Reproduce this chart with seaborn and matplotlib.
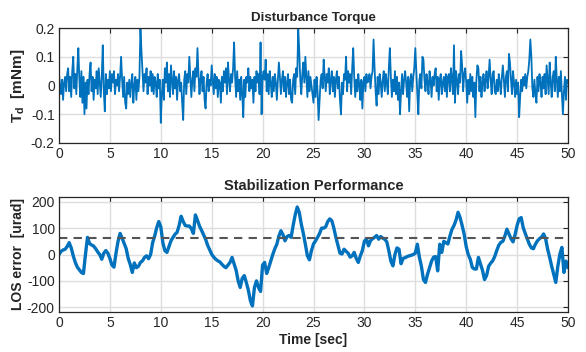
import numpy as np
import matplotlib
matplotlib.use("Agg")
import matplotlib.pyplot as plt
import seaborn as sns

# ---------------- data ----------------
# Disturbance torque [mNm], sampled every 0.1 s from 0 to 50 s (one row per second)
td_values = [
    0.04, 0.00, -0.03, 0.02, -0.05, 0.01, 0.03, -0.02, 0.04, 0.06,
    -0.02, 0.03, -0.04, 0.05, 0.10, -0.01, 0.04, -0.03, 0.06, 0.13,
    0.02, -0.04, 0.05, -0.06, 0.03, -0.10, 0.01, -0.08, 0.02, -0.03,
    0.04, 0.08, -0.02, 0.03, -0.05, 0.02, -0.01, 0.05, -0.03, 0.06,
    0.01, -0.04, 0.03, 0.14, -0.02, -0.09, 0.04, -0.03, 0.02, -0.01,
    0.05, -0.02, 0.04, 0.01, 0.05, -0.03, 0.02, 0.00, 0.04, -0.02,
    0.03, 0.10, 0.02, -0.04, 0.03, -0.06, -0.08, 0.01, -0.03, 0.02,
    -0.04, 0.01, 0.04, -0.06, 0.00, 0.03, -0.05, 0.02, -0.02, 0.03,
    0.20, 0.12, 0.05, -0.02, 0.04, 0.01, 0.06, -0.03, 0.03, 0.00,
    0.05, -0.02, 0.04, -0.03, 0.03, 0.01, -0.04, 0.04, -0.01, 0.02,
    -0.13, -0.03, 0.02, -0.05, 0.06, 0.01, 0.08, -0.02, 0.04, -0.04,
    0.07, 0.02, -0.03, 0.05, -0.01, 0.03, -0.05, 0.02, 0.04, -0.02,
    0.01, -0.06, -0.12, 0.02, 0.05, -0.03, 0.04, 0.01, 0.10, 0.03,
    -0.04, 0.02, 0.05, -0.02, 0.06, 0.03, 0.13, 0.04, -0.03, 0.02,
    0.05, -0.02, 0.03, -0.05, -0.08, 0.01, 0.04, -0.02, 0.02, 0.00,
    0.07, 0.02, -0.03, 0.04, -0.01, 0.03, -0.04, 0.02, 0.01, -0.06,
    0.03, -0.02, 0.05, 0.01, 0.06, -0.03, 0.08, 0.02, -0.02, 0.04,
    0.01, 0.06, 0.15, 0.03, -0.04, 0.05, -0.02, 0.02, -0.05, 0.03,
    -0.03, -0.11, 0.02, -0.04, 0.03, 0.01, 0.06, -0.02, 0.03, -0.01,
    0.02, -0.06, 0.03, -0.02, 0.05, 0.01, 0.04, -0.03, 0.15, -0.10,
    0.03, 0.05, 0.02, 0.09, -0.02, 0.04, -0.03, 0.05, 0.01, -0.04,
    0.03, -0.02, 0.04, 0.01, -0.05, 0.02, 0.08, 0.03, -0.03, 0.02,
    0.05, -0.02, 0.03, -0.04, 0.01, 0.04, -0.03, 0.02, -0.05, -0.06,
    0.02, 0.04, -0.03, 0.06, 0.03, 0.20, 0.12, 0.02, -0.03, 0.04,
    0.08, 0.01, 0.10, 0.03, -0.04, 0.05, -0.02, 0.03, 0.00, -0.03,
    -0.06, 0.02, -0.04, 0.03, -0.02, -0.12, -0.05, 0.02, 0.04, -0.01,
    0.09, 0.03, -0.02, 0.04, 0.01, 0.06, -0.03, 0.02, 0.05, -0.02,
    0.03, -0.04, 0.02, 0.05, -0.01, 0.03, -0.05, -0.10, 0.01, -0.03,
    0.04, 0.02, 0.10, -0.02, 0.05, 0.01, 0.04, -0.03, 0.06, 0.13,
    0.03, -0.04, 0.02, -0.02, 0.04, 0.00, -0.05, 0.02, -0.08, 0.01,
    0.03, -0.02, 0.04, 0.01, 0.02, 0.04, -0.01, 0.03, 0.05, 0.16,
    0.06, -0.02, -0.07, 0.03, -0.03, 0.04, 0.01, -0.04, 0.02, 0.05,
    -0.02, 0.04, 0.01, -0.03, 0.06, 0.13, 0.03, -0.04, 0.02, -0.02,
    0.05, -0.03, 0.03, -0.05, 0.01, -0.10, -0.02, 0.04, -0.03, 0.02,
    0.05, 0.01, -0.04, 0.03, -0.09, 0.02, 0.04, -0.02, 0.03, 0.06,
    0.13, 0.05, -0.03, -0.10, 0.02, 0.04, -0.01, 0.10, 0.09, 0.02,
    -0.02, 0.04, 0.01, -0.03, 0.05, 0.02, -0.04, 0.03, 0.00, 0.04,
    0.06, -0.02, 0.03, -0.05, 0.02, 0.04, -0.03, 0.01, 0.03, -0.02,
    0.04, -0.04, 0.03, 0.04, -0.02, 0.06, 0.02, -0.03, 0.14, -0.06,
    0.05, 0.02, -0.03, 0.04, 0.01, 0.12, 0.07, -0.02, 0.04, 0.06,
    0.01, -0.06, 0.02, -0.03, 0.04, -0.02, 0.03, -0.04, 0.01, -0.11,
    0.02, 0.07, 0.06, -0.02, 0.03, -0.04, 0.01, 0.04, -0.02, 0.02,
    0.05, -0.01, 0.03, 0.09, 0.02, -0.03, 0.04, 0.05, -0.02, -0.03,
    0.02, -0.02, 0.04, 0.01, -0.03, 0.03, 0.07, 0.02, -0.04, 0.03,
    0.05, -0.02, 0.11, 0.08, 0.02, -0.03, 0.05, 0.01, -0.04, 0.02,
    -0.03, 0.01, -0.11, -0.04, 0.02, -0.02, 0.03, 0.00, 0.04, -0.01,
    0.03, 0.05, 0.09, 0.16, 0.10, -0.01, -0.04, 0.02, -0.03, -0.06,
    0.03, -0.02, 0.04, 0.01, -0.04, 0.03, -0.01, 0.04, -0.03, 0.07,
    0.02, -0.03, 0.08, 0.01, -0.04, 0.03, 0.05, -0.02, 0.10, 0.02,
    -0.04, 0.03, -0.02, 0.05, -0.03, -0.10, -0.02, 0.03, -0.05, 0.02,
    0.01,
]
td_dt = 0.1

# LOS error [urad], sampled every 0.2 s from 0 to 50 s (one row per 2 s)
los_values = [
    0, 12, 17, 20, 30, 45, 25, -5, -30, -48,
    -58, -68, -72, 0, 65, 42, 36, 32, 22, 10,
    0, -18, 5, 15, 5, -15, -40, -48, 5, 50,
    80, 62, 42, 22, -15, -38, -68, -32, -50, -45,
    -30, -24, -11, -5, -16, 0, 45, 70, 102, 125,
    105, 45, 15, 8, 30, 52, 65, 77, 84, 110,
    145, 125, 110, 108, 108, 98, 80, 150, 130, 108,
    92, 75, 58, 35, 18, 1, -10, -18, -24, -28,
    -37, -45, -50, -40, -30, -11, -35, -60, -100, -125,
    -90, -80, -106, -135, -175, -195, -125, -100, -125, -140,
    -40, -30, -72, -50, -25, 0, 22, 39, 70, 90,
    75, 52, 68, 72, 65, 110, 150, 180, 160, 115,
    80, 39, -5, -20, 15, 40, 52, 65, 80, 100,
    100, 105, 125, 135, 128, 100, 65, 35, 5, 2,
    20, 12, 5, -10, -5, 8, -15, -30, -5, 15,
    50, 60, 33, 52, 60, 65, 72, 58, 68, 62,
    58, 48, 14, -25, -43, 0, 25, 20, -35, -15,
    -12, -8, -5, -3, 0, 5, 39, -10, -45, -95,
    -106, -75, -50, -25, -10, -8, -62, 39, 8, 50,
    45, 40, 70, 95, 110, 130, 160, 140, 110, 77,
    30, 0, -18, -49, -55, -55, -11, -35, -60, -95,
    -80, -45, -33, -24, -8, 15, 35, 46, 50, 70,
    96, 78, 60, 48, 75, 110, 135, 140, 102, 80,
    60, 39, 25, 22, 39, 52, 60, 66, 78, 60,
    20, -11, -45, -75, -106, -45, 1, 27, -68, -25,
    -50,
]
los_dt = 0.2
los_threshold = 63  # dashed reference level [urad]

x_ticks = [0, 5, 10, 15, 20, 25, 30, 35, 40, 45, 50]
td_ticks = [-0.2, -0.1, 0, 0.1, 0.2]
td_ticklabels = ["-0.2", "-0.1", "0", "0.1", "0.2"]
los_ticks = [-200, -100, 0, 100, 200]
los_ticklabels = ["-200", "-100", "0", "100", "200"]

td_time = np.arange(len(td_values)) * td_dt
los_time = np.arange(len(los_values)) * los_dt

# ---------------- style ----------------
sns.set_theme(style="white")
plt.rcParams["font.family"] = ["Liberation Sans", "DejaVu Sans"]
plt.rcParams["axes.unicode_minus"] = False
plt.rcParams["mathtext.fontset"] = "custom"
plt.rcParams["mathtext.rm"] = "Liberation Sans:bold"
plt.rcParams["mathtext.it"] = "Liberation Sans:bold"
plt.rcParams["mathtext.bf"] = "Liberation Sans:bold"

line_color = "#0072BD"
grid_color = "#dedede"

fig = plt.figure(figsize=(5.86, 3.52), dpi=100)
ax1 = fig.add_axes([59 / 586, 1 - 143 / 352, (568 - 59) / 586, (143 - 28) / 352])
ax2 = fig.add_axes([59 / 586, 1 - 312 / 352, (568 - 59) / 586, (312 - 197) / 352])

sns.lineplot(x=td_time, y=td_values, ax=ax1, color=line_color, linewidth=1.3,
             estimator=None, sort=False)
sns.lineplot(x=los_time, y=los_values, ax=ax2, color=line_color, linewidth=2.4,
             estimator=None, sort=False)
ax2.axhline(los_threshold, color="#555555", linestyle=(0, (4, 3)), linewidth=1.5)

for ax in (ax1, ax2):
    ax.set_xlim(0, 50)
    ax.set_xticks(x_ticks)
    ax.set_xticklabels([str(v) for v in x_ticks])
    ax.grid(True, color=grid_color, linewidth=1.0)
    ax.set_axisbelow(True)
    for s in ax.spines.values():
        s.set_color("#262626")
        s.set_linewidth(0.9)
    ax.tick_params(direction="in", top=True, right=True, length=3.5, width=0.8,
                   labelsize=10, colors="#262626", pad=3)

ax1.set_ylim(-0.2, 0.2)
ax1.set_yticks(td_ticks)
ax1.set_yticklabels(td_ticklabels)
ax1.set_title("Disturbance Torque", fontsize=9.6, fontweight="bold", pad=5)
ax1.set_ylabel(r"T$_{d}$  [mNm]", fontsize=11, fontweight="bold", labelpad=3)

ax2.set_ylim(-218, 218)
ax2.set_yticks(los_ticks)
ax2.set_yticklabels(los_ticklabels)
ax2.set_title("Stabilization Performance", fontsize=10.5, fontweight="bold", pad=5)
ax2.set_ylabel("LOS error  [urad]", fontsize=10, fontweight="bold", labelpad=1)
ax2.set_xlabel("Time [sec]", fontsize=10, fontweight="bold", labelpad=2)

fig.savefig("out.png", dpi=100)
